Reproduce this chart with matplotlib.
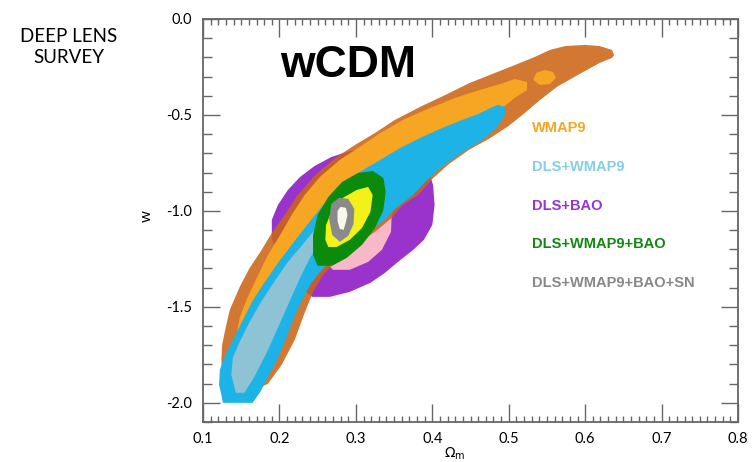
import matplotlib.pyplot as plt
from matplotlib.ticker import MultipleLocator

plt.rcParams['axes.unicode_minus'] = False

# confidence regions in the (Omega_m, w) plane, boundary points as (Om, w)
wmap9_2s = [(0.638, -0.188), (0.635, -0.161), (0.619, -0.141), (0.600, -0.135),
            (0.574, -0.141), (0.554, -0.161), (0.534, -0.198), (0.508, -0.240),
            (0.482, -0.281), (0.449, -0.333), (0.417, -0.396), (0.384, -0.458),
            (0.351, -0.526), (0.325, -0.594), (0.299, -0.656), (0.273, -0.724),
            (0.247, -0.813), (0.224, -0.917), (0.207, -1.021), (0.190, -1.115),
            (0.175, -1.214), (0.161, -1.297), (0.148, -1.396), (0.135, -1.516),
            (0.129, -1.620), (0.125, -1.698), (0.124, -1.776), (0.125, -1.854),
            (0.142, -1.932), (0.168, -1.932), (0.185, -1.901), (0.203, -1.802),
            (0.220, -1.672), (0.233, -1.531), (0.244, -1.422), (0.257, -1.333),
            (0.273, -1.266), (0.299, -1.182), (0.325, -1.109), (0.347, -1.036),
            (0.360, -0.974), (0.383, -0.911), (0.400, -0.833), (0.422, -0.755),
            (0.448, -0.682), (0.474, -0.625), (0.500, -0.557), (0.521, -0.490),
            (0.541, -0.422), (0.563, -0.354), (0.593, -0.286), (0.619, -0.229),
            (0.635, -0.203)]

wmap9_1s = [(0.524, -0.328), (0.508, -0.313), (0.489, -0.339), (0.462, -0.370),
            (0.430, -0.411), (0.397, -0.464), (0.364, -0.521), (0.332, -0.594),
            (0.305, -0.667), (0.279, -0.734), (0.253, -0.823), (0.233, -0.917),
            (0.216, -1.021), (0.201, -1.125), (0.185, -1.229), (0.171, -1.344),
            (0.158, -1.453), (0.148, -1.557), (0.143, -1.661), (0.161, -1.698),
            (0.227, -1.203), (0.358, -0.734), (0.462, -0.516), (0.495, -0.453),
            (0.508, -0.411), (0.524, -0.370)]

wmap9_1s_island = [(0.532, -0.318), (0.536, -0.281), (0.547, -0.266), (0.558, -0.276),
                   (0.562, -0.307), (0.554, -0.339), (0.541, -0.344)]

dls_wmap9_2s = [(0.495, -0.458), (0.486, -0.448), (0.476, -0.464), (0.460, -0.495),
                (0.436, -0.531), (0.410, -0.573), (0.384, -0.620), (0.358, -0.672),
                (0.332, -0.734), (0.305, -0.797), (0.286, -0.854), (0.266, -0.927),
                (0.250, -1.005), (0.233, -1.089), (0.216, -1.177), (0.198, -1.271),
                (0.181, -1.370), (0.164, -1.474), (0.151, -1.578), (0.139, -1.672),
                (0.129, -1.750), (0.122, -1.828), (0.121, -1.906), (0.124, -1.958),
                (0.126, -2.000), (0.165, -2.000), (0.175, -1.943), (0.185, -1.865),
                (0.197, -1.776), (0.209, -1.661), (0.220, -1.547), (0.231, -1.453),
                (0.241, -1.380), (0.253, -1.318), (0.266, -1.266), (0.290, -1.188),
                (0.316, -1.115), (0.339, -1.042), (0.353, -0.984), (0.375, -0.917),
                (0.392, -0.844), (0.414, -0.766), (0.440, -0.693), (0.466, -0.630),
                (0.485, -0.563), (0.495, -0.500)]

dls_wmap9_1s = [(0.143, -1.948), (0.137, -1.854), (0.139, -1.766), (0.148, -1.682),
                (0.161, -1.578), (0.176, -1.474), (0.193, -1.370), (0.211, -1.266),
                (0.230, -1.177), (0.248, -1.089), (0.266, -1.005), (0.279, -1.021),
                (0.256, -1.151), (0.240, -1.245), (0.227, -1.349), (0.214, -1.464),
                (0.198, -1.609), (0.182, -1.750), (0.165, -1.880), (0.154, -1.948)]

dls_bao_2s = [(0.190, -1.151), (0.190, -1.047), (0.198, -0.969), (0.211, -0.891),
              (0.227, -0.823), (0.246, -0.766), (0.268, -0.719), (0.292, -0.688),
              (0.318, -0.672), (0.344, -0.682), (0.370, -0.724), (0.394, -0.776),
              (0.401, -0.865), (0.403, -0.969), (0.400, -1.073), (0.389, -1.151),
              (0.375, -1.203), (0.355, -1.266), (0.338, -1.323), (0.319, -1.375),
              (0.292, -1.422), (0.266, -1.448), (0.243, -1.448), (0.231, -1.411),
              (0.220, -1.333), (0.205, -1.245)]

dls_bao_1s = [(0.260, -1.266), (0.264, -1.177), (0.286, -1.073), (0.312, -0.969),
              (0.338, -0.917), (0.347, -1.005), (0.346, -1.109), (0.334, -1.203),
              (0.316, -1.266), (0.292, -1.307), (0.270, -1.307)]

dls_wmap9_bao_2s = [(0.244, -1.229), (0.244, -1.125), (0.250, -1.021), (0.264, -0.927),
                    (0.282, -0.849), (0.303, -0.802), (0.322, -0.792), (0.336, -0.828),
                    (0.339, -0.901), (0.336, -0.995), (0.325, -1.089), (0.308, -1.177),
                    (0.288, -1.245), (0.269, -1.286), (0.250, -1.286)]

dls_wmap9_bao_1s = [(0.260, -1.151), (0.261, -1.073), (0.269, -0.995), (0.283, -0.932),
                    (0.301, -0.891), (0.316, -0.875), (0.322, -0.917), (0.319, -1.005),
                    (0.308, -1.089), (0.292, -1.151), (0.275, -1.188), (0.264, -1.188)]

dls_all_2s = [(0.268, -0.963), (0.278, -0.932), (0.290, -0.937), (0.298, -0.990),
              (0.297, -1.068), (0.290, -1.130), (0.279, -1.161), (0.269, -1.125),
              (0.265, -1.042)]

dls_all_1s = [(0.276, -1.000), (0.280, -0.979), (0.287, -0.984), (0.289, -1.021),
              (0.287, -1.057), (0.284, -1.099), (0.279, -1.094), (0.276, -1.052)]

labels = ['WMAP9', 'DLS+WMAP9', 'DLS+BAO', 'DLS+WMAP9+BAO', 'DLS+WMAP9+BAO+SN']
label_colors = ['#F5A623', '#86CDEA', '#9933CC', '#118811', '#888888']
label_w = [-0.568, -0.771, -0.974, -1.172, -1.375]

# drawing order, back to front: (points, colour, alpha)
layers = [
    (dls_bao_2s, '#9933CC', 1.0),
    (dls_bao_1s, '#F8B8C8', 1.0),
    (wmap9_2s, '#CC6516', 0.88),
    (wmap9_1s, '#F6A623', 1.0),
    (wmap9_1s_island, '#F6A623', 1.0),
    (dls_wmap9_2s, '#1DB3E6', 1.0),
    (dls_wmap9_1s, '#8DC3D5', 1.0),
    (dls_wmap9_bao_2s, '#0B8A0B', 1.0),
    (dls_wmap9_bao_1s, '#F2F21A', 1.0),
    (dls_all_2s, '#8A8A8A', 1.0),
    (dls_all_1s, '#F8F8E8', 1.0),
]

fig = plt.figure(figsize=(7.55, 4.62), dpi=100)
ax = fig.add_axes([0.2689, 0.0866, 0.7086, 0.8723])

for pts, col, a in layers:
    om, w = zip(*pts)
    ax.fill(om, w, color=col, alpha=a, lw=0)

ax.set_xlim(0.1, 0.8)
ax.set_ylim(-2.1, 0.0)

ax.xaxis.set_major_locator(MultipleLocator(0.1))
ax.xaxis.set_minor_locator(MultipleLocator(0.01))
ax.yaxis.set_minor_locator(MultipleLocator(0.1))
ax.set_yticks([0.0, -0.5, -1.0, -1.5, -2.0])

tick_col = '#666666'
ax.tick_params(which='both', direction='in', top=True, right=True,
               color=tick_col, width=1.0)
ax.tick_params(axis='x', which='major', length=13, pad=7)
ax.tick_params(axis='x', which='minor', length=4.5)
ax.tick_params(axis='y', which='major', length=12.5, pad=8)
ax.tick_params(axis='y', which='minor', length=6.5)
for lab in ax.get_xticklabels() + ax.get_yticklabels():
    lab.set_fontfamily('Lato')
    lab.set_fontsize(10.5)
for sp in ax.spines.values():
    sp.set_color(tick_col)
    sp.set_linewidth(1.3)

ax.set_xlabel(r'$\Omega_{\rm m}$', fontsize=10, va='center')
ax.xaxis.set_label_coords(0.471, -0.08)
ax.set_ylabel('w', fontsize=11, family='Lato')
ax.yaxis.set_label_coords(-0.092, 0.51)

ax.text(0.290, -0.24, 'wCDM', fontsize=32, fontweight='bold',
        family='Liberation Sans', ha='center', va='center')

for txt, col, yv in zip(labels, label_colors, label_w):
    ax.text(0.530, yv, txt, color=col, fontsize=10.5, fontweight='bold',
            family='Liberation Sans', ha='left', va='center')

fig.text(0.0914, 0.898, 'DEEP LENS\nSURVEY', fontsize=13.5, family='Lato',
         ha='center', va='center', multialignment='center', linespacing=1.25)

plt.savefig('out.png', dpi=100)
